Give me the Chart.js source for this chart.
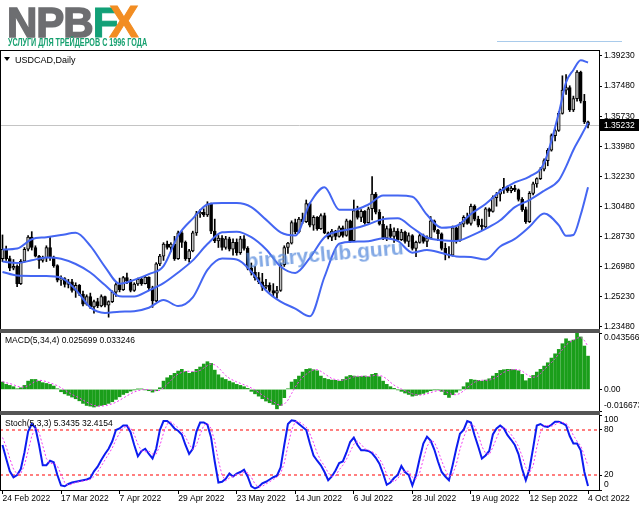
<!DOCTYPE html>
<html>
<head>
<meta charset="utf-8">
<script src="https://cdn.jsdelivr.net/npm/chart.js@4.4.1/dist/chart.umd.min.js"></script>
<style>
  html, body { margin: 0; padding: 0; background: #fff; width: 639px; height: 508px; overflow: hidden; }
  body { position: relative; font-family: 'Liberation Sans', Arial, sans-serif; }
  canvas { position: absolute; left: 0; }
  .ln { position: absolute; z-index: 5; }
  .txt { position: absolute; z-index: 6; white-space: nowrap; color: #000; }
</style>
</head>
<body>
<div id="logo" class="txt" style="left:7px;top:1px;font:bold 42px/42px 'Liberation Sans',Arial,sans-serif;letter-spacing:-1px">
  <span style="color:#6d6e71;-webkit-text-stroke:1.5px #6d6e71">NPB</span><span style="color:#12a077;-webkit-text-stroke:1px #12a077">F</span><span style="color:#f28d22;-webkit-text-stroke:1px #f28d22;margin-left:-8px;font-size:44px">X</span>
</div>
<div id="sub" class="txt" style="left:8px;top:37px;display:inline-block;font:bold 10.5px/11px 'Liberation Sans',Arial,sans-serif;color:#16a06f;transform-origin:0 0">УСЛУГИ ДЛЯ ТРЕЙДЕРОВ С 1996 ГОДА</div>
<div class="ln" style="left:497px;top:41px;width:125px;height:1px;background:#a9cbeb"></div>

<canvas id="main" width="639" height="306" style="top:37px"></canvas>
<canvas id="macd" width="639" height="106" style="top:319px"></canvas>
<canvas id="stoch" width="639" height="107" style="top:401px"></canvas>

<!-- window frame and separators -->
<div class="ln" style="left:0;top:50px;width:600px;height:1px;background:#000"></div>
<div class="ln" style="left:0;top:50px;width:1px;height:441px;background:#000"></div>
<div class="ln" style="left:0;top:329px;width:600px;height:4px;background:#555"></div>
<div class="ln" style="left:0;top:411px;width:600px;height:4px;background:#555"></div>

<div class="ln" style="left:4px;top:57px;width:0;height:0;border-left:3px solid transparent;border-right:3px solid transparent;border-top:4px solid #000"></div>
<div class="txt" style="left:15px;top:55px;font:9px/10px 'Liberation Sans',Arial,sans-serif">USDCAD,Daily</div>
<div class="txt" style="left:5px;top:335px;font:8.5px/10px 'Liberation Sans',Arial,sans-serif">MACD(5,34,4) 0.025699 0.033246</div>
<div class="txt" style="left:5px;top:418px;font:8.5px/10px 'Liberation Sans',Arial,sans-serif">Stoch(5,3,3) 5.3435 32.4154</div>
<div class="txt" style="left:246px;top:250px;font:bold 21px/21px 'Liberation Sans',Arial,sans-serif;color:rgba(90,140,220,0.75);transform:rotate(-5deg);transform-origin:0 17px">binaryclub.guru</div>

<script>
// ---- axis labels ----
const dateTicks = [0, 16, 32, 48, 64, 80, 96, 112, 128, 144, 160];
const dateLabels = ['24 Feb 2022', '17 Mar 2022', '7 Apr 2022', '29 Apr 2022', '23 May 2022',
  '14 Jun 2022', '6 Jul 2022', '28 Jul 2022', '19 Aug 2022', '12 Sep 2022', '4 Oct 2022'];
const priceTicks = [1.23480, 1.25230, 1.26980, 1.28730, 1.30480, 1.32230, 1.33980, 1.35730, 1.37480, 1.39230];
const lastPrice = 1.35232;
const macdTicks = [-0.016673, 0, 0.043566];
const stochTicks = [0, 20, 80, 100];

// ---- USDCAD daily candles, bar 0 = 24 Feb 2022, bar 160 = 4 Oct 2022 ----
const open = [1.2745,1.2800,1.2745,1.2690,1.2700,1.2600,1.2730,1.2800,1.2870,1.2810,
  1.2760,1.2735,1.2750,1.2810,1.2755,1.2705,1.2620,1.2630,1.2595,1.2610,
  1.2560,1.2590,1.2540,1.2480,1.2525,1.2465,1.2495,1.2470,1.2525,1.2475,
  1.2495,1.2550,1.2595,1.2565,1.2635,1.2615,1.2560,1.2598,1.2625,1.2600,
  1.2638,1.2575,1.2500,1.2715,1.2760,1.2830,1.2810,1.2830,1.2745,1.2895,
  1.2840,1.2745,1.2790,1.2895,1.3005,1.3015,1.3000,1.3062,1.2905,1.2848,
  1.2865,1.2810,1.2860,1.2800,1.2840,1.2780,1.2860,1.2805,1.2690,1.2665,
  1.2635,1.2610,1.2580,1.2590,1.2560,1.2545,1.2560,1.2710,1.2810,1.2835,
  1.2955,1.2900,1.2975,1.2960,1.3065,1.2940,1.2985,1.2920,1.2995,1.2895,
  1.2870,1.2905,1.2875,1.2925,1.2880,1.2965,1.2850,1.3025,1.2985,1.3020,
  1.2955,1.3035,1.3120,1.3015,1.2945,1.2865,1.2920,1.2875,1.2905,1.2855,
  1.2900,1.2845,1.2880,1.2805,1.2840,1.2880,1.2845,1.2865,1.2965,1.2910,
  1.2890,1.2805,1.2770,1.2765,1.2925,1.2850,1.2945,1.2985,1.2950,1.3050,
  1.2975,1.2940,1.2930,1.3035,1.3020,1.3100,1.3120,1.3145,1.3160,1.3140,
  1.3155,1.3145,1.3090,1.3030,1.2960,1.3125,1.3180,1.3210,1.3265,1.3315,
  1.3375,1.3460,1.3490,1.3590,1.3725,1.3740,1.3610,1.3675,1.3830,1.3660,
  1.3540];
const high = [1.2883,1.2818,1.2760,1.2740,1.2710,1.2740,1.2810,1.2880,1.2902,1.2820,
  1.2765,1.2760,1.2820,1.2873,1.2760,1.2710,1.2645,1.2635,1.2625,1.2625,
  1.2605,1.2595,1.2556,1.2535,1.2545,1.2505,1.2515,1.2535,1.2528,1.2500,
  1.2558,1.2605,1.2632,1.2642,1.2662,1.2625,1.2605,1.2632,1.2635,1.2645,
  1.2640,1.2585,1.2722,1.2770,1.2838,1.2848,1.2838,1.2875,1.2905,1.2905,
  1.2848,1.2800,1.2905,1.3020,1.3030,1.3035,1.3076,1.3068,1.2975,1.2880,
  1.2880,1.2875,1.2870,1.2860,1.2860,1.2875,1.2880,1.2815,1.2720,1.2700,
  1.2665,1.2660,1.2625,1.2605,1.2600,1.2585,1.2720,1.2820,1.2840,1.2965,
  1.2975,1.2985,1.3010,1.3086,1.3070,1.2995,1.2990,1.3005,1.3010,1.2900,
  1.2915,1.2910,1.2935,1.2935,1.2975,1.2970,1.3086,1.3050,1.3030,1.3025,
  1.3045,1.3222,1.3130,1.3030,1.2990,1.2935,1.2945,1.2925,1.2920,1.2915,
  1.2905,1.2895,1.2885,1.2848,1.2890,1.2888,1.2878,1.2990,1.2970,1.2915,
  1.2895,1.2835,1.2815,1.2935,1.2930,1.2955,1.2995,1.3010,1.3062,1.3058,
  1.2992,1.2975,1.3042,1.3040,1.3110,1.3130,1.3150,1.3212,1.3168,1.3165,
  1.3172,1.3150,1.3100,1.3045,1.3135,1.3190,1.3215,1.3275,1.3325,1.3385,
  1.3470,1.3500,1.3600,1.3808,1.3815,1.3750,1.3690,1.3838,1.3835,1.3700,
  1.3545];
const low = [1.2728,1.2735,1.2675,1.2680,1.2583,1.2595,1.2725,1.2790,1.2795,1.2755,
  1.2689,1.2725,1.2728,1.2735,1.2695,1.2610,1.2590,1.2580,1.2575,1.2550,
  1.2520,1.2530,1.2470,1.2475,1.2455,1.2428,1.2460,1.2465,1.2465,1.2405,
  1.2490,1.2525,1.2552,1.2560,1.2600,1.2552,1.2555,1.2590,1.2590,1.2598,
  1.2560,1.2462,1.2495,1.2705,1.2735,1.2800,1.2785,1.2735,1.2740,1.2810,
  1.2735,1.2725,1.2785,1.2880,1.2985,1.2990,1.2990,1.2890,1.2838,1.2810,
  1.2795,1.2800,1.2790,1.2765,1.2765,1.2770,1.2795,1.2680,1.2650,1.2620,
  1.2600,1.2560,1.2570,1.2550,1.2525,1.2515,1.2555,1.2700,1.2775,1.2830,
  1.2890,1.2895,1.2950,1.2955,1.2930,1.2910,1.2910,1.2915,1.2890,1.2860,
  1.2850,1.2855,1.2870,1.2870,1.2875,1.2840,1.2845,1.2975,1.2960,1.2945,
  1.2950,1.2970,1.3005,1.2940,1.2855,1.2850,1.2860,1.2840,1.2845,1.2850,
  1.2835,1.2815,1.2795,1.2757,1.2835,1.2835,1.2815,1.2860,1.2900,1.2850,
  1.2795,1.2738,1.2750,1.2760,1.2835,1.2845,1.2930,1.2945,1.2940,1.2965,
  1.2930,1.2910,1.2925,1.2990,1.3015,1.3050,1.3080,1.3125,1.3130,1.3128,
  1.3135,1.3080,1.3020,1.2950,1.2955,1.3115,1.3160,1.3205,1.3255,1.3285,
  1.3370,1.3430,1.3485,1.3585,1.3700,1.3600,1.3600,1.3660,1.3650,1.3530,
  1.3505];
const close = [1.2800,1.2745,1.2690,1.2700,1.2600,1.2730,1.2800,1.2870,1.2810,1.2760,
  1.2735,1.2750,1.2810,1.2755,1.2705,1.2620,1.2630,1.2595,1.2610,1.2560,
  1.2590,1.2540,1.2480,1.2525,1.2465,1.2495,1.2470,1.2525,1.2475,1.2495,
  1.2550,1.2595,1.2565,1.2635,1.2615,1.2560,1.2598,1.2625,1.2600,1.2638,
  1.2575,1.2500,1.2715,1.2760,1.2830,1.2810,1.2830,1.2745,1.2895,1.2840,
  1.2745,1.2790,1.2895,1.3005,1.3015,1.3000,1.3062,1.2905,1.2848,1.2865,
  1.2810,1.2860,1.2800,1.2840,1.2780,1.2860,1.2805,1.2690,1.2665,1.2635,
  1.2610,1.2580,1.2590,1.2560,1.2545,1.2560,1.2710,1.2810,1.2835,1.2955,
  1.2900,1.2975,1.2960,1.3065,1.2940,1.2985,1.2920,1.2995,1.2895,1.2870,
  1.2905,1.2875,1.2925,1.2880,1.2965,1.2850,1.3025,1.2985,1.3020,1.2955,
  1.3035,1.3120,1.3015,1.2945,1.2865,1.2920,1.2875,1.2905,1.2855,1.2900,
  1.2845,1.2880,1.2805,1.2840,1.2880,1.2845,1.2865,1.2965,1.2910,1.2890,
  1.2805,1.2770,1.2765,1.2925,1.2850,1.2945,1.2985,1.2950,1.3050,1.2975,
  1.2940,1.2930,1.3035,1.3020,1.3100,1.3120,1.3145,1.3160,1.3140,1.3155,
  1.3145,1.3090,1.3030,1.2960,1.3125,1.3180,1.3210,1.3265,1.3315,1.3375,
  1.3460,1.3490,1.3590,1.3725,1.3740,1.3610,1.3675,1.3830,1.3660,1.3540,
  1.35232];

// ---- Bollinger bands at these bars ----
const bandX = [0,4,8,12,16,20,24,28,32,36,40,44,48,52,56,60,64,68,72,76,80,84,88,92,96,100,
  104,108,112,116,120,124,128,132,136,140,144,148,152,154,156,158,160];
const bbUpper = [1.2798,1.2804,1.2858,1.2870,1.2882,1.2895,1.2820,1.2698,1.2600,1.2622,1.2655,1.2702,
  1.2880,1.2978,1.3060,1.3068,1.3068,1.3045,1.2972,1.2898,1.2880,1.3067,1.3160,1.3030,1.3030,1.3060,
  1.3112,1.3112,1.3105,1.3000,1.2925,1.2935,1.3005,1.3063,1.3136,1.3188,1.3222,1.3300,1.3590,1.3770,
  1.3842,1.3898,1.3885];
const bbMiddle = [1.2728,1.2720,1.2736,1.2752,1.2745,1.2714,1.2665,1.2592,1.2527,1.2525,1.2560,1.2603,
  1.2665,1.2735,1.2830,1.2898,1.2902,1.2870,1.2800,1.2700,1.2662,1.2750,1.2870,1.2905,1.2920,1.2945,
  1.2975,1.2980,1.2925,1.2868,1.2852,1.2848,1.2878,1.2918,1.2968,1.3045,1.3086,1.3140,1.3200,1.3280,
  1.3377,1.3455,1.3535];
const bbLower = [1.2668,1.2647,1.2645,1.2645,1.2635,1.2565,1.2462,1.2430,1.2437,1.2440,1.2460,1.2505,
  1.2470,1.2520,1.2680,1.2746,1.2740,1.2670,1.2560,1.2495,1.2455,1.2410,1.2640,1.2832,1.2844,1.2846,
  1.2864,1.2848,1.2780,1.2796,1.2778,1.2758,1.2755,1.2740,1.2816,1.2860,1.2930,1.3008,1.2940,1.2878,
  1.2883,1.3000,1.3160];

// ---- MACD(5,34,4) ----
const macdHist = [0.0057,0.0039,0.0031,0.0021,0.0005,0.0013,0.0031,0.0064,0.0077,0.0077,
  0.0064,0.0052,0.0046,0.0039,0.0026,0.0005,-0.0018,-0.0034,-0.0046,-0.0059,
  -0.0072,-0.0088,-0.0108,-0.0124,-0.0129,-0.0136,-0.0129,-0.0124,-0.0118,-0.0108,
  -0.0095,-0.0077,-0.0057,-0.0039,-0.0026,-0.0013,-0.0003,0.0002,0.0003,-0.0003,
  -0.0010,-0.0021,-0.0010,0.0013,0.0064,0.0090,0.0108,0.0124,0.0142,0.0155,
  0.0139,0.0124,0.0134,0.0155,0.0173,0.0196,0.0214,0.0201,0.0149,0.0113,
  0.0090,0.0077,0.0064,0.0052,0.0039,0.0031,0.0021,0.0008,-0.0015,-0.0034,
  -0.0052,-0.0072,-0.0090,-0.0103,-0.0116,-0.0150,-0.0124,-0.0064,0.0005,0.0057,
  0.0077,0.0103,0.0134,0.0155,0.0160,0.0152,0.0144,0.0103,0.0085,0.0077,
  0.0072,0.0070,0.0064,0.0077,0.0098,0.0108,0.0103,0.0098,0.0100,0.0103,
  0.0098,0.0116,0.0124,0.0098,0.0064,0.0039,0.0021,0.0008,-0.0003,-0.0015,
  -0.0028,-0.0039,-0.0052,-0.0046,-0.0039,-0.0031,-0.0021,-0.0010,-0.0003,-0.0003,
  -0.0015,-0.0041,-0.0062,-0.0041,-0.0021,-0.0005,0.0021,0.0052,0.0077,0.0072,
  0.0070,0.0064,0.0072,0.0082,0.0103,0.0124,0.0147,0.0152,0.0155,0.0155,
  0.0152,0.0144,0.0116,0.0067,0.0085,0.0108,0.0134,0.0155,0.0180,0.0206,
  0.0242,0.0275,0.0309,0.0353,0.0391,0.0373,0.0381,0.0436,0.0405,0.0335,
  0.0257];
const macdSignal = [0.0060,0.0052,0.0045,0.0037,0.0024,0.0018,0.0018,0.0028,0.0046,0.0062,
  0.0071,0.0068,0.0060,0.0050,0.0041,0.0029,0.0013,-0.0006,-0.0023,-0.0039,
  -0.0053,-0.0066,-0.0082,-0.0098,-0.0112,-0.0124,-0.0129,-0.0129,-0.0126,-0.0120,
  -0.0111,-0.0100,-0.0084,-0.0067,-0.0050,-0.0034,-0.0020,-0.0010,-0.0003,0.0000,
  -0.0002,-0.0008,-0.0011,-0.0007,0.0012,0.0039,0.0069,0.0097,0.0119,0.0132,
  0.0140,0.0140,0.0138,0.0138,0.0147,0.0165,0.0185,0.0197,0.0190,0.0169,
  0.0138,0.0107,0.0086,0.0071,0.0058,0.0047,0.0036,0.0025,0.0011,-0.0005,
  -0.0023,-0.0043,-0.0062,-0.0079,-0.0095,-0.0115,-0.0123,-0.0114,-0.0083,-0.0032,
  0.0019,0.0060,0.0093,0.0117,0.0138,0.0150,0.0153,0.0140,0.0121,0.0102,
  0.0084,0.0076,0.0071,0.0071,0.0077,0.0087,0.0097,0.0102,0.0102,0.0101,
  0.0100,0.0104,0.0110,0.0109,0.0100,0.0081,0.0055,0.0033,0.0016,0.0003,
  -0.0010,-0.0021,-0.0034,-0.0041,-0.0044,-0.0042,-0.0034,-0.0025,-0.0016,-0.0009,
  -0.0008,-0.0016,-0.0030,-0.0040,-0.0041,-0.0032,-0.0011,0.0012,0.0036,0.0056,
  0.0068,0.0071,0.0070,0.0072,0.0080,0.0095,0.0114,0.0132,0.0145,0.0152,
  0.0154,0.0152,0.0142,0.0120,0.0103,0.0094,0.0098,0.0121,0.0154,0.0179,
  0.0207,0.0238,0.0273,0.0307,0.0343,0.0365,0.0380,0.0396,0.0403,0.0378,
  0.0332];

// ---- Stochastic(5,3,3) ----
const stochMain = [60,42,25,17,20,28,50,78,88,83,
  60,33,33,39,37,20,6,5,8,10,
  11,12,13,14,16,25,31,40,48,55,
  65,80,82,86,86,77,60,45,52,55,
  48,42,55,80,92,92,88,82,79,74,
  60,48,55,78,90,90,87,70,38,10,
  11,15,22,18,22,24,27,18,5,2,
  4,9,11,14,17,19,30,60,88,93,
  92,88,84,80,62,46,39,33,24,13,
  18,26,36,38,50,64,70,60,53,53,
  52,49,43,35,22,7,10,16,20,32,
  24,20,6,20,42,62,71,66,54,38,
  24,18,13,33,55,75,80,92,90,73,
  58,42,46,52,74,82,86,82,73,67,
  60,48,28,13,28,56,86,88,85,84,
  87,91,91,89,86,72,62,62,53,24,
  5.3435];
const stochSignal = [70,58,42,28,21,22,33,52,72,83,
  77,59,42,35,36,32,21,10,6,8,
  10,11,12,13,14,18,24,32,40,48,
  56,67,76,83,85,83,74,61,52,51,
  52,48,48,59,76,88,91,87,83,78,
  71,61,54,60,74,86,89,82,65,39,
  20,12,16,18,21,21,24,23,17,8,
  4,5,8,11,14,17,22,36,59,80,
  91,91,88,84,75,63,49,39,32,23,
  18,19,27,33,41,51,61,65,61,55,
  53,51,48,42,33,21,13,11,15,23,
  25,25,17,15,23,41,58,66,64,53,
  39,27,18,21,34,54,70,82,87,85,
  74,58,49,47,57,69,81,83,80,74,
  67,58,45,30,23,32,57,77,86,86,
  85,87,90,90,89,82,73,65,59,46,
  32.4154];

// ---- look ----
const X_MIN = -0.68, X_MAX = 163;
const BAND = '#4466f2';
const FONT = "'Liberation Sans', Arial, sans-serif";

Chart.defaults.font.family = FONT;
Chart.defaults.font.size = 8.5;
Chart.defaults.color = '#000';
Chart.defaults.animation = false;
Chart.defaults.events = [];
Chart.defaults.plugins.legend.display = false;
Chart.defaults.plugins.tooltip.enabled = false;

const idx = close.map((_, i) => i);
const pts = (xs, ys) => xs.map((x, k) => ({ x, y: ys[k] }));

function hiddenX() {
  return { type: 'linear', min: X_MIN, max: X_MAX, display: false, offset: false, grid: { offset: false } };
}

function rightAxis(min, max, ticks, fmt) {
  return {
    position: 'right', min, max, beginAtZero: false,
    afterFit: (s) => { s.width = 40; },
    afterBuildTicks: (s) => { s.ticks = ticks.map((v) => ({ value: v })); },
    ticks: { callback: fmt, padding: 2, autoSkip: false },
    grid: { drawOnChartArea: false, drawTicks: true, tickLength: 3, color: '#000' },
    border: { display: true, color: '#000' },
  };
}

const lastPricePlugin = {
  id: 'lastPrice',
  beforeDatasetsDraw(chart) {
    const { ctx, chartArea: a, scales: { y } } = chart;
    const py = Math.round(y.getPixelForValue(lastPrice)) + 0.5;
    ctx.save();
    ctx.strokeStyle = '#c4c4c4';
    ctx.lineWidth = 1;
    ctx.beginPath();
    ctx.moveTo(a.left, py);
    ctx.lineTo(a.right, py);
    ctx.stroke();
    ctx.restore();
  },
  afterDraw(chart) {
    const { ctx, chartArea: a, scales: { y } } = chart;
    const py = Math.round(y.getPixelForValue(lastPrice));
    ctx.save();
    ctx.fillStyle = '#000';
    ctx.fillRect(a.right + 1, py - 6, 39, 12);
    ctx.fillStyle = '#fff';
    ctx.font = '8.5px ' + FONT;
    ctx.textBaseline = 'middle';
    ctx.fillText(lastPrice.toFixed(5), a.right + 5, py + 0.5);
    ctx.restore();
  },
};

// price panel: candles + Bollinger bands
new Chart(document.getElementById('main'), {
  type: 'line',
  data: {
    datasets: [
      { data: pts(bandX, bbUpper), borderColor: BAND, borderWidth: 2, pointRadius: 0, cubicInterpolationMode: 'monotone', order: 0 },
      { data: pts(bandX, bbMiddle), borderColor: BAND, borderWidth: 2, pointRadius: 0, cubicInterpolationMode: 'monotone', order: 0 },
      { data: pts(bandX, bbLower), borderColor: BAND, borderWidth: 2, pointRadius: 0, cubicInterpolationMode: 'monotone', order: 0 },
      {
        type: 'bar',
        data: idx.map((i) => ({ x: i, y: [open[i], close[i]] })),
        backgroundColor: idx.map((i) => (close[i] >= open[i] ? '#bdbdbd' : '#000')),
        borderColor: '#000', borderWidth: 1, borderSkipped: false,
        barThickness: 3, minBarLength: 1, grouped: false, order: 1,
      },
      {
        type: 'bar',
        data: idx.map((i) => ({ x: i, y: [low[i], high[i]] })),
        backgroundColor: '#000', barThickness: 1, grouped: false, order: 2,
      },
    ],
  },
  options: {
    responsive: false,
    layout: { padding: { top: 14, bottom: 14, left: 0, right: 0 } },
    scales: {
      x: hiddenX(),
      y: rightAxis(1.395206, 1.233632, priceTicks, (v) => v.toFixed(5)),
    },
  },
  plugins: [lastPricePlugin],
});

// MACD panel
new Chart(document.getElementById('macd'), {
  type: 'line',
  data: {
    datasets: [
      { data: pts(idx, macdSignal), borderColor: '#f23cf2', borderWidth: 1, borderDash: [2, 2], pointRadius: 0, order: 0 },
      { type: 'bar', data: pts(idx, macdHist), backgroundColor: '#1a9e1a', barThickness: 3, grouped: false, order: 1 },
    ],
  },
  options: {
    responsive: false,
    layout: { padding: { top: 14, bottom: 14, left: 0, right: 0 } },
    scales: {
      x: hiddenX(),
      y: rightAxis(macdTicks[0], macdTicks[2], macdTicks, (v) => {
        if (v === macdTicks[2]) return ['', '0.043566'];
        if (v === macdTicks[0]) return ['-0.016673', ''];
        return '0.00';
      }),
    },
  },
});

// Stochastic panel with the date axis
new Chart(document.getElementById('stoch'), {
  type: 'line',
  data: {
    datasets: [
      { data: [{ x: X_MIN, y: 80 }, { x: X_MAX, y: 80 }], borderColor: '#ff0000', borderWidth: 1, borderDash: [3, 3], pointRadius: 0, order: 3 },
      { data: [{ x: X_MIN, y: 20 }, { x: X_MAX, y: 20 }], borderColor: '#ff0000', borderWidth: 1, borderDash: [3, 3], pointRadius: 0, order: 3 },
      { data: pts(idx, stochSignal), borderColor: '#f23cf2', borderWidth: 1, borderDash: [2, 2], pointRadius: 0, order: 0 },
      { data: pts(idx, stochMain), borderColor: '#0d1cf0', borderWidth: 2, pointRadius: 0, order: 1 },
    ],
  },
  options: {
    responsive: false,
    layout: { padding: { top: 14, bottom: 0, left: 0, right: 0 } },
    scales: {
      x: {
        type: 'linear', min: X_MIN, max: X_MAX, offset: false, position: 'bottom',
        afterFit: (s) => { s.height = 18; },
        afterBuildTicks: (s) => { s.ticks = dateTicks.map((v) => ({ value: v })); },
        ticks: {
          callback: (v) => dateLabels[dateTicks.indexOf(v)],
          align: 'start', maxRotation: 0, minRotation: 0, autoSkip: false, padding: 0,
        },
        grid: { drawOnChartArea: false, drawTicks: true, tickLength: 4, color: '#000', offset: false },
        border: { display: true, color: '#000' },
      },
      y: rightAxis(0, 100, stochTicks, (v) => {
        if (v === 100) return ['', '100'];
        if (v === 0) return ['0', ''];
        return String(v);
      }),
    },
  },
});

const sub = document.getElementById('sub');
sub.style.transform = 'scaleX(' + (139 / sub.scrollWidth) + ')';
</script>
</body>
</html>
